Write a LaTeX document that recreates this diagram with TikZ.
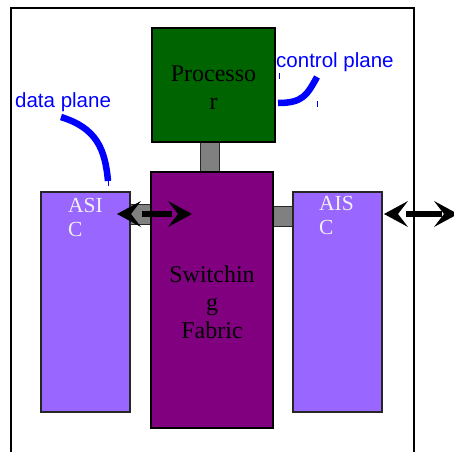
\documentclass[tikz,border=0pt]{standalone}
\usepackage{fontspec}
\setmainfont{Liberation Serif}
\newfontfamily\planefont{Liberation Sans}
\definecolor{procgreen}{RGB}{0,100,0}
\definecolor{fabricpurple}{RGB}{128,0,128}
\definecolor{asicviolet}{RGB}{153,102,255}
\definecolor{linkgray}{RGB}{128,128,128}
\definecolor{planeblue}{RGB}{0,0,255}
\begin{document}
\begin{tikzpicture}[x=1pt,y=-1pt,
  unit/.style={draw=black, line width=1.3pt, inner sep=0pt, outer sep=0pt},
  proc/.style={unit, fill=procgreen},
  fabric/.style={unit, fill=fabricpurple},
  asic/.style={draw=black!85, line width=1.1pt, fill=asicviolet, inner sep=0pt, outer sep=0pt},
  link/.style={draw=black!85, line width=1pt, fill=linkgray, inner sep=0pt, outer sep=0pt},
  bigtext/.style={font=\fontsize{24}{28}\selectfont, align=center, inner sep=0pt, anchor=north},
  asictext/.style={font=\fontsize{21.5}{24}\selectfont, align=left, inner sep=0pt, text=white!94!black, anchor=north west},
  planelabel/.style={font=\planefont\fontsize{20.5}{24}\selectfont, text=planeblue, inner sep=0pt, anchor=base west},
  planeline/.style={draw=planeblue, line width=6.5pt},
  tickmark/.style={draw=planeblue, line width=0.8pt},
  shaft/.style={draw=black, line width=6.5pt},
  % chevron-shaped arrow head, tip at the origin, pointing to the left
  chevronhead/.pic={\fill[black] (0,0) -- (24,-13) -- (14,0) -- (24,13) -- cycle;}
]
\useasboundingbox (0,0) rectangle (454,452);
\fill[white] (0,0) rectangle (454,452);

% chassis outline (open at the bottom)
\draw[line width=1.4pt] (11,452) -- (11,8) -- (414,8) -- (414,452);

% links between the units
\node[link, minimum width=19pt, minimum height=30pt] (toplink) at (209.5,157.5) {};
\node[link, minimum width=21pt, minimum height=20pt] (leftlink) at (140.5,214) {};
\node[link, minimum width=20pt, minimum height=20pt] (rightlink) at (283,216) {};

% main units
\node[proc, minimum width=123pt, minimum height=114pt] (proc) at (213.5,85) {};
\node[fabric, minimum width=122pt, minimum height=256pt] (fabric) at (212,300) {};
\node[asic, minimum width=89pt, minimum height=220pt] (asicL) at (85.5,302) {};
\node[asic, minimum width=89pt, minimum height=220pt] (asicR) at (337.5,302) {};

% unit captions
\node[bigtext] (proctext) at (213.5,66) {Processo\\r};
\node[bigtext] (fabrictext) at (212,266) {Switchin\\g\\Fabric};
\node[asictext] (asicLtext) at (68,198) {ASI\\C};
\node[asictext] (asicRtext) at (319,196) {AIS\\C};

% bidirectional data paths: shaft between two chevron heads
\coordinate (la) at (117,214);
\coordinate (lb) at (192,214);
\coordinate (las) at (142,214);
\coordinate (lbs) at (172,214);
\draw[shaft] (las) -- (lbs);
\pic at (la) {chevronhead};
\pic[xscale=-1] at (lb) {chevronhead};

\coordinate (ra) at (384,214);
\coordinate (rb) at (458,214);
\coordinate (ras) at (406,214);
\coordinate (rbs) at (442,214);
\draw[shaft] (ras) -- (rbs);
\pic at (ra) {chevronhead};
\pic[xscale=-1] at (rb) {chevronhead};

% plane annotations
\node[planelabel] (datalbl) at (15,107) {data plane};
\coordinate (d0) at (61,117);
\coordinate (d1) at (108,181);
\coordinate (d2) at (108,186);
\draw[planeline] (d0) .. controls (96,128) and (105,148) .. (d1);
\draw[tickmark] (d1) -- (d2);

\node[planelabel] (ctrllbl) at (276,67) {control plane};
\coordinate (c0) at (278,103);
\coordinate (c1) at (317,77);
\draw[planeline] (c0) .. controls (303,103) and (307,95) .. (c1);
\coordinate (t1a) at (279,73);
\coordinate (t1b) at (279,79);
\coordinate (t2a) at (317,101);
\coordinate (t2b) at (317,107);
\draw[tickmark] (t1a) -- (t1b);
\draw[tickmark] (t2a) -- (t2b);
\end{tikzpicture}
\end{document}
